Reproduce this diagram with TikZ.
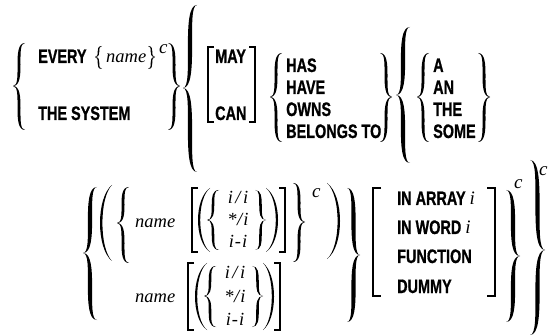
\documentclass[tikz,border=0pt]{standalone}
\usepackage{fontspec}
\setmainfont{Liberation Serif}
\newfontfamily\kwfont[FakeStretch=0.74,FakeBold=0.8]{Liberation Sans Bold}
% curly brace: #1 x of tip, #2 x of ends, #3 top y, #4 tip y, #5 bottom y, #6 half thickness
\newcommand{\cbr}[6]{%
  \fill (#2,#3) .. controls (#1-#6,#3) and (#2-#6,#4) .. (#1,#4)
    .. controls (#2-#6,#4) and (#1-#6,#5) .. (#2,#5)
    .. controls (#1+#6,#5) and (#2+#6,#4) .. (#1,#4)
    .. controls (#2+#6,#4) and (#1+#6,#3) .. (#2,#3) -- cycle;}
% parenthesis: #1 x of ends, #2 x of bulge, #3 top y, #4 bottom y, #5 thickness
\newcommand{\prn}[5]{%
  \pgfmathsetmacro\pnD{(#1>#2) ? 1 : -1}%
  \pgfmathsetmacro\pnK{(#4-#3)/6}%
  \pgfmathsetmacro\pnP{(#2-0.25*#1)/0.75}%
  \pgfmathsetmacro\pnQ{(#2+\pnD*#5-0.25*#1)/0.75}%
  \fill (#1,#3) .. controls (\pnP,#3+\pnK) and (\pnP,#4-\pnK) .. (#1,#4)
    .. controls (\pnQ,#4-\pnK) and (\pnQ,#3+\pnK) .. (#1,#3) -- cycle;}
% square bracket: #1 x of upright, #2 x of arm ends, #3 top y, #4 bottom y
\newcommand{\brk}[4]{%
  \draw[bracketline] (#2,#3) -- (#1,#3) -- (#1,#4) -- (#2,#4);}
\tikzset{
  kw/.style={font=\kwfont\fontsize{19.5}{21}\selectfont, inner sep=0pt, anchor=base west},
  nm/.style={font=\itshape\fontsize{18.5}{20}\selectfont, inner sep=0pt, anchor=base west},
  supc/.style={font=\itshape\fontsize{19}{21}\selectfont, inner sep=0pt, anchor=base west},
  opt/.style={font=\itshape\fontsize{18.5}{20}\selectfont, inner sep=0pt, anchor=base},
  bracketline/.style={line width=1.8pt, line cap=butt, line join=miter},
}
\newcommand{\ii}{{\rmfamily\mdseries\itshape\fontsize{19}{21}\selectfont i}}
\begin{document}
\begin{tikzpicture}[x=1pt,y=-1pt]
\useasboundingbox (0,0) rectangle (548,336);
% ---------- row 1 ----------
\cbr{13}{25}{43}{86}{130}{2.0}
\node[kw] (every) at (38,63) {EVERY};
\cbr{95}{102}{46}{57}{69}{1.1}
\node[nm] (name1) at (106,63) {name};
\cbr{155}{148}{46}{57}{69}{1.1}
\node[supc] (c1) at (159,54) {c};
\node[kw] (sys) at (38,120) {THE SYSTEM};
\cbr{180}{168}{43}{86}{130}{2.0}
\cbr{183}{197}{5}{88}{172}{2.8}
\brk{208}{214}{47}{122}
\node[kw] (may) at (215,63) {MAY};
\node[kw] (can) at (215,120) {CAN};
\brk{255}{249}{47}{122}
\cbr{270}{282}{53}{97}{142}{2.0}
\node[kw] (has) at (286,72) {HAS};
\node[kw] (have) at (286,94) {HAVE};
\node[kw] (owns) at (286,116) {OWNS};
\node[kw] (belongs) at (286,138) {BELONGS TO};
\cbr{392}{380}{53}{97}{142}{2.0}
\cbr{396}{410}{27}{95}{163}{2.8}
\cbr{417}{429}{53}{97}{142}{2.0}
\node[kw] (a) at (433,72) {A};
\node[kw] (an) at (433,94) {AN};
\node[kw] (the) at (433,116) {THE};
\node[kw] (some) at (433,138) {SOME};
\cbr{490}{478}{53}{97}{142}{2.0}
% ---------- row 2 ----------
\cbr{83}{97}{187}{253}{320}{2.8}
\prn{112}{100}{185}{261}{2.4}
\cbr{117}{129}{187}{223}{263}{2.0}
\node[nm] (name2) at (135,228) {name};
\brk{192}{198}{188}{252}
\prn{210}{198}{188}{252}{2.2}
\cbr{207}{219}{190}{220}{250}{1.7}
\node[opt] (ii1) at (238,204) {i\kern2.5pt/\kern2.5pt i};
\node[opt] (si1) at (238,226) {*\kern0.5pt/\kern1pt i};
\node[opt] (mi1) at (238,248) {i\kern1pt-\kern1pt i};
\cbr{266}{255}{190}{220}{250}{1.7}
\prn{266}{278}{188}{252}{2.2}
\brk{285}{279}{188}{252}
\cbr{305}{293}{183}{222}{262}{2.0}
\node[supc] (c2) at (312,198) {c};
\prn{327}{340}{183}{259}{2.4}
\node[nm] (name3) at (135,302) {name};
\brk{188}{194}{263}{330}
\prn{207}{195}{263}{330}{2.2}
\cbr{204}{216}{266}{296}{327}{1.7}
\node[opt] (ii2) at (235,279) {i\kern2.5pt/\kern2.5pt i};
\node[opt] (si2) at (235,302) {*\kern0.5pt/\kern1pt i};
\node[opt] (mi2) at (235,325) {i\kern1pt-\kern1pt i};
\cbr{263}{252}{266}{296}{327}{1.7}
\prn{263}{274}{263}{330}{2.2}
\brk{280}{274}{263}{330}
\cbr{360}{347}{188}{255}{322}{2.8}
\brk{373}{381}{188}{296}
\node[kw] (inarray) at (397,205) {IN ARRAY \ii};
\node[kw] (inword) at (397,234) {IN WORD \ii};
\node[kw] (function) at (397,263) {FUNCTION};
\node[kw] (dummy) at (397,293) {DUMMY};
\brk{495}{487}{188}{296}
\cbr{520}{506}{190}{256}{322}{2.8}
\node[supc] (c3) at (514,189) {c};
\cbr{545}{530}{160}{250}{335}{2.8}
\node[supc] (c4) at (539,176) {c};
\end{tikzpicture}
\end{document}
